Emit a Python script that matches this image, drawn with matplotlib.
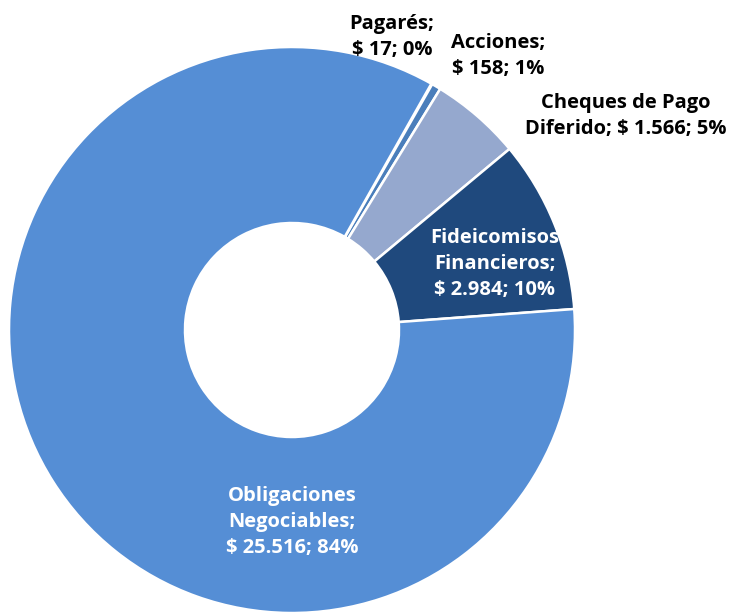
import matplotlib.pyplot as plt

# cartera por instrumento (millones de $)
nombres = ['Pagarés', 'Acciones', 'Cheques de Pago Diferido',
           'Fideicomisos Financieros', 'Obligaciones Negociables']
montos = [17, 158, 1566, 2984, 25516]
etiquetas = ['Pagarés;\n$ 17; 0%', 'Acciones;\n$ 158; 1%',
             'Cheques de Pago\nDiferido; $ 1.566; 5%',
             'Fideicomisos\nFinancieros;\n$ 2.984; 10%',
             'Obligaciones\nNegociables;\n$ 25.516; 84%']
colores = ['#3F6FA8', '#4A7EBB', '#95A8CE', '#1F497D', '#558ED5']
separar = [0.0, 0.005, 0.022, 0.03, 0.0]

plt.rcParams['font.family'] = ['Open Sans', 'DejaVu Sans']

fig = plt.figure(figsize=(7.3, 6.15), dpi=100)
ax = fig.add_axes([0, 0, 1, 1])

R = 283
ax.pie(montos, colors=colores, startangle=60.5, counterclock=False,
       explode=separar, center=(292, 285), radius=R,
       wedgeprops=dict(width=R - 107, edgecolor='white', linewidth=1.8))

# la torta fija sus propios limites, se pisan despues
ax.set_xlim(0, 730)
ax.set_ylim(0, 615)
ax.set_aspect('equal')
ax.axis('off')

# posiciones de las etiquetas (x, y en pixeles)
pos = [(392, 578), (498, 559), (626, 499), (495, 351), (292, 93)]
col_txt = ['black', 'black', 'black', 'white', 'white']
for txt, (x, y), c in zip(etiquetas, pos, col_txt):
    ax.text(x, y, txt, ha='center', va='center', fontsize=14.5,
            fontweight='bold', color=c, linespacing=1.42)

fig.savefig('out.png', dpi=100)
